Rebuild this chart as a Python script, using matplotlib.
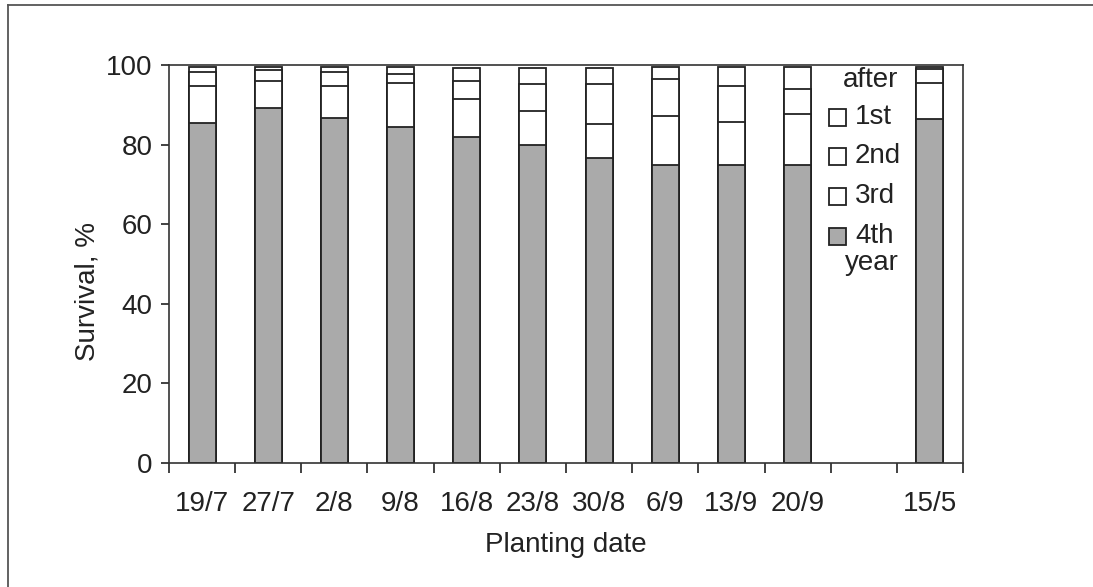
import numpy as np
import matplotlib
matplotlib.use("Agg")
import matplotlib.pyplot as plt
from matplotlib.patches import Rectangle
from matplotlib.lines import Line2D

plt.rcParams['font.family'] = ['Liberation Sans', 'DejaVu Sans']

categories = ['19/7', '27/7', '2/8', '9/8', '16/8', '23/8', '30/8', '6/9', '13/9', '20/9', '', '15/5']
after_1st = [99.4, 99.4, 99.4, 99.4, 99.2, 99.2, 99.3, 99.4, 99.4, 99.4, np.nan, 99.5]
after_2nd = [98.3, 98.7, 98.3, 97.8, 95.9, 95.3, 95.3, 96.6, 94.6, 94.0, np.nan, 98.9]
after_3rd = [94.6, 96.0, 94.6, 95.4, 91.5, 88.4, 85.2, 87.1, 85.7, 87.8, np.nan, 95.4]
after_4th = [85.5, 89.3, 86.6, 84.5, 81.9, 80.0, 76.6, 75.0, 75.0, 74.8, np.nan, 86.4]
series_labels = ['1st', '2nd', '3rd', '4th']
series_colors = ['white', 'white', 'white', '#aaaaaa']
yticks = [0, 20, 40, 60, 80, 100]

FS = 20
W, H = 1093, 587
fig = plt.figure(figsize=(W / 100, H / 100), dpi=100)
ax = fig.add_axes([169 / W, 1 - 463 / H, (963 - 169) / W, (463 - 65) / H])

x = np.arange(len(categories))
bw = 0.41
for vals, col, z in zip([after_1st, after_2nd, after_3rd, after_4th], series_colors, [2, 3, 4, 5]):
    ax.bar(x, vals, width=bw, color=col, edgecolor='#222222', linewidth=1.3, zorder=z)

ax.set_xlim(-0.5, len(categories) - 0.5)
ax.set_ylim(0, 100)
ax.set_yticks(yticks)
ax.set_yticklabels([str(v) for v in yticks], fontsize=FS, color='#222222')
ax.set_xticks(x)
ax.set_xticklabels(categories, fontsize=FS, color='#222222')
ax.set_xticks(np.arange(-0.5, len(categories)), minor=True)
ax.tick_params(axis='x', which='major', length=0, pad=20)
ax.tick_params(axis='x', which='minor', length=7, width=1.2, direction='out', color='#222222')
ax.tick_params(axis='y', which='major', length=6, width=1.2, direction='out', pad=6, color='#222222')
for s in ax.spines.values():
    s.set_linewidth(1.2)
    s.set_color('#333333')
    s.set_zorder(6)

ax.set_xlabel('Planting date', fontsize=FS, labelpad=11, color='#222222')
ax.set_ylabel('Survival, %', fontsize=FS, color='#222222')
ax.yaxis.set_label_coords((100 - 169) / (963 - 169), 0.43)

# legend drawn manually
sq_w = 17 / (963 - 169)
sq_h = 17 / (463 - 65)
sq_x = (829 - 169) / (963 - 169)
txt_x = (855 - 169) / (963 - 169)
row_y = [(463 - y) / (463 - 65) for y in [117, 156, 196, 236]]
for lab, col, yy in zip(series_labels, series_colors, row_y):
    ax.add_patch(Rectangle((sq_x, yy - sq_h / 2), sq_w, sq_h, transform=ax.transAxes,
                           facecolor=col, edgecolor='#222222', linewidth=1.3, zorder=7, clip_on=False))
    ax.text(txt_x, yy, lab, transform=ax.transAxes, fontsize=FS, va='center', ha='left', zorder=7,
            color='#222222')
ax.text((871 - 169) / (963 - 169), (463 - 80) / (463 - 65), 'after', transform=ax.transAxes,
        fontsize=FS, va='center', ha='center', zorder=7, color='#222222')
ax.text((872 - 169) / (963 - 169), (463 - 263) / (463 - 65), 'year', transform=ax.transAxes,
        fontsize=FS, va='center', ha='center', zorder=7, color='#222222')

# outer frame (left and top only)
fig.add_artist(Line2D([7.5 / W, 7.5 / W], [0, 1 - 4.5 / H], transform=fig.transFigure, color='#555555', linewidth=1.3))
fig.add_artist(Line2D([7.5 / W, 1], [1 - 4.5 / H, 1 - 4.5 / H], transform=fig.transFigure, color='#555555', linewidth=1.3))

fig.savefig('out.png', dpi=100)
